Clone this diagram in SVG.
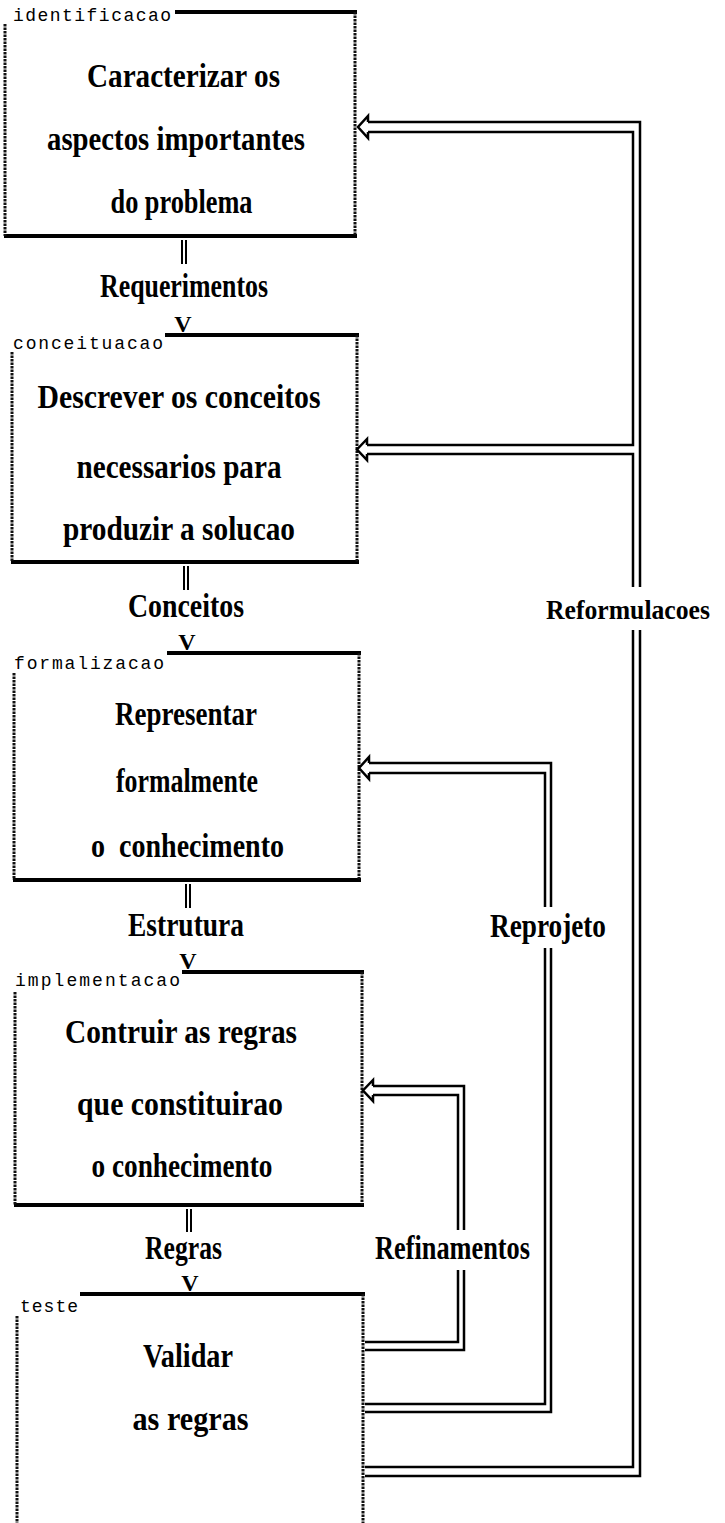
<svg xmlns="http://www.w3.org/2000/svg" width="725" height="1523" viewBox="0 0 725 1523">
<style>
.tl{stroke:#000;stroke-width:4;fill:none}
.bd{stroke:#111;stroke-width:3;stroke-dasharray:2.5 1;fill:none}
.m{font-family:"Liberation Serif",serif;font-weight:bold;font-size:33px;fill:#000;text-anchor:middle}
.s{font-family:"Liberation Mono",monospace;font-size:18px;fill:#000}
.v{font-family:"Liberation Serif",serif;font-weight:bold;font-size:24px;fill:#000;text-anchor:middle}
.c{stroke:#000;stroke-width:2.5;fill:none}
.d{stroke:#000;stroke-width:2;fill:none}
</style>
<rect width="725" height="1523" fill="#fff"/>
<g id="n1">
<text class="s" x="13" y="21" textLength="158" lengthAdjust="spacing">identificacao</text>
<path class="tl" d="M175,12H357M4,236H357"/>
<path class="bd" d="M355,12V236M5,24V236"/>
<text class="m" x="183.5" y="87" textLength="193" lengthAdjust="spacingAndGlyphs">Caracterizar os</text>
<text class="m" x="176" y="150" textLength="258" lengthAdjust="spacingAndGlyphs">aspectos importantes</text>
<text class="m" x="181.5" y="213" textLength="142" lengthAdjust="spacingAndGlyphs">do problema</text>
</g>
<g id="n2">
<text class="s" x="13" y="349" textLength="150" lengthAdjust="spacing">conceituacao</text>
<path class="tl" d="M165,335H359M11,562H359"/>
<path class="bd" d="M357,335V562M12,352V562"/>
<text class="m" x="179" y="408" textLength="283" lengthAdjust="spacingAndGlyphs">Descrever os conceitos</text>
<text class="m" x="179" y="478" textLength="205" lengthAdjust="spacingAndGlyphs">necessarios para</text>
<text class="m" x="179" y="540" textLength="232" lengthAdjust="spacingAndGlyphs">produzir a solucao</text>
</g>
<g id="n3">
<text class="s" x="14" y="669" textLength="150" lengthAdjust="spacing">formalizacao</text>
<path class="tl" d="M167,653H361M13,880H361"/>
<path class="bd" d="M359,653V880M14,673V880"/>
<text class="m" x="186" y="725" textLength="142" lengthAdjust="spacingAndGlyphs">Representar</text>
<text class="m" x="187" y="792" textLength="142" lengthAdjust="spacingAndGlyphs">formalmente</text>
<text class="m" x="187.5" y="857" textLength="193" lengthAdjust="spacingAndGlyphs" xml:space="preserve">o  conhecimento</text>
</g>
<g id="n4">
<text class="s" x="15" y="986" textLength="165" lengthAdjust="spacing">implementacao</text>
<path class="tl" d="M182,972H364M14,1205H364"/>
<path class="bd" d="M362,972V1205M15,992V1205"/>
<text class="m" x="181" y="1043" textLength="232" lengthAdjust="spacingAndGlyphs">Contruir as regras</text>
<text class="m" x="180" y="1115" textLength="206" lengthAdjust="spacingAndGlyphs">que constituirao</text>
<text class="m" x="182" y="1177" textLength="181" lengthAdjust="spacingAndGlyphs">o conhecimento</text>
</g>
<g id="n5">
<text class="s" x="20" y="1312" textLength="58" lengthAdjust="spacing">teste</text>
<path class="tl" d="M80,1294H365"/>
<path class="bd" d="M363,1294V1523M17,1316V1523"/>
<text class="m" x="188" y="1367" textLength="90" lengthAdjust="spacingAndGlyphs">Validar</text>
<text class="m" x="190.5" y="1430" textLength="116" lengthAdjust="spacingAndGlyphs">as regras</text>
</g>
<g id="connectors">
<path class="d" d="M182,240V264M186,240V264M184,566V590M188,566V590M186,884V908M190,884V908M187,1209V1232M191,1209V1232"/>
<text class="v" x="183" y="332">V</text>
<text class="v" x="187" y="650">V</text>
<text class="v" x="188" y="969">V</text>
<text class="v" x="190" y="1291">V</text>
<text class="m" x="184" y="297" textLength="168" lengthAdjust="spacingAndGlyphs">Requerimentos</text>
<text class="m" x="186" y="617" textLength="116" lengthAdjust="spacingAndGlyphs">Conceitos</text>
<text class="m" x="186" y="936" textLength="116" lengthAdjust="spacingAndGlyphs">Estrutura</text>
<text class="m" x="183.5" y="1259" textLength="77" lengthAdjust="spacingAndGlyphs">Regras</text>
<path class="c" d="M368,122H640V587M640,630V1476H365"/>
<path class="c" d="M368,132H633V445H367"/>
<path class="c" d="M367,454H633V587M633,630V1467H365"/>
<path class="c" d="M368,122V116L358,127L368,138V132"/>
<path class="c" d="M367,445V439L357,449.5L367,460V454"/>
<text class="m" x="628" y="619" textLength="164" lengthAdjust="spacingAndGlyphs" style="font-size:28px">Reformulacoes</text>
<path class="c" d="M369,763H551V907M551,948V1412H365"/>
<path class="c" d="M369,773H545V907M545,948V1404H365"/>
<path class="c" d="M369,763V757L359,768L369,779V773"/>
<text class="m" x="548" y="937" textLength="116" lengthAdjust="spacingAndGlyphs">Reprojeto</text>
<path class="c" d="M373,1086H464V1230M464,1270V1350H365"/>
<path class="c" d="M373,1095H458V1230M458,1270V1342H365"/>
<path class="c" d="M373,1086V1080L363,1090.5L373,1101V1095"/>
<text class="m" x="452.5" y="1259" textLength="155" lengthAdjust="spacingAndGlyphs">Refinamentos</text>
</g>
</svg>
